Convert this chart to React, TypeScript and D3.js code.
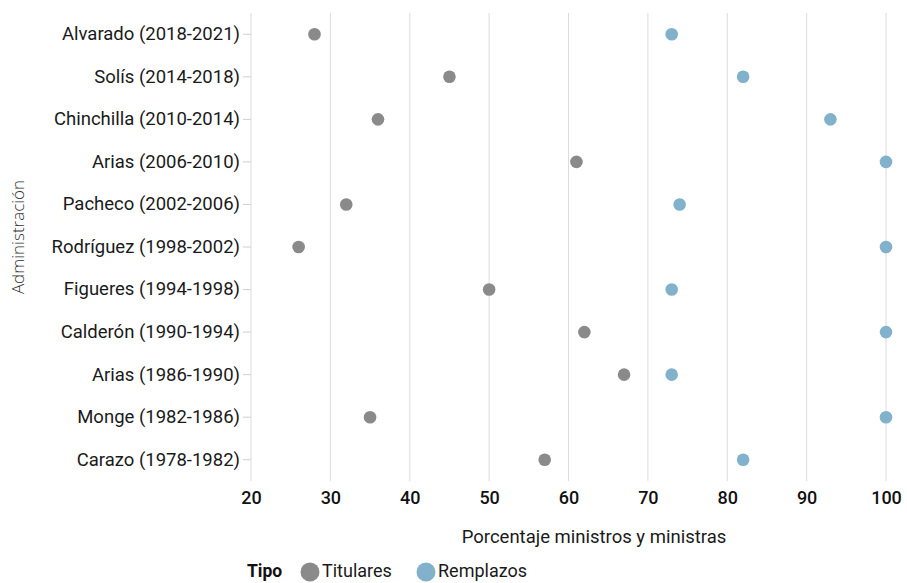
import React, { useEffect, useRef } from "react";
import * as d3 from "d3";

const administraciones = [
  "Alvarado (2018-2021)",
  "Solís (2014-2018)",
  "Chinchilla (2010-2014)",
  "Arias (2006-2010)",
  "Pacheco (2002-2006)",
  "Rodríguez (1998-2002)",
  "Figueres (1994-1998)",
  "Calderón (1990-1994)",
  "Arias (1986-1990)",
  "Monge (1982-1986)",
  "Carazo (1978-1982)",
];
const titulares = [28, 45, 36, 61, 32, 26, 50, 62, 67, 35, 57];
const remplazos = [73, 82, 93, 100, 74, 100, 73, 100, 73, 100, 82];
const tipos = ["Titulares", "Remplazos"];
const colores = ["#8a8a8a", "#82b1cb"];
const xTicks = [20, 30, 40, 50, 60, 70, 80, 90, 100];

const FONT = "'Roboto', sans-serif";

const App = () => {
  const svgRef = useRef<SVGSVGElement>(null);

  useEffect(() => {
    const width = 907;
    const height = 583;
    const margin = { top: 13, left: 251, right: 21, bottom: 102 };

    const svg = d3.select(svgRef.current);
    svg.selectAll("*").remove();

    const x = d3
      .scaleLinear()
      .domain([20, 100])
      .range([margin.left, width - margin.right]);
    const y = d3
      .scaleBand()
      .domain(administraciones)
      .range([margin.top, height - margin.bottom]);
    const color = d3.scaleOrdinal<string>().domain(tipos).range(colores);

    // grid
    svg
      .append("g")
      .selectAll("line")
      .data(xTicks)
      .enter()
      .append("line")
      .attr("x1", (d) => x(d))
      .attr("x2", (d) => x(d))
      .attr("y1", margin.top)
      .attr("y2", height - margin.bottom)
      .attr("stroke", "#dcdcdc")
      .attr("stroke-width", 1);

    // y axis
    const yAxis = svg
      .append("g")
      .attr("transform", `translate(${margin.left},0)`)
      .call(d3.axisLeft(y).tickSize(8).tickPadding(3));
    yAxis.select(".domain").remove();
    yAxis.selectAll(".tick line").attr("stroke", "#d0d0d0");
    yAxis
      .selectAll(".tick text")
      .attr("fill", "#1a1a1a")
      .style("font-family", FONT)
      .style("font-size", "18.5px");

    // x axis
    const xAxis = svg
      .append("g")
      .attr("transform", `translate(0,${height - margin.bottom})`)
      .call(d3.axisBottom(x).tickValues(xTicks).tickSize(0).tickPadding(10));
    xAxis.select(".domain").remove();
    xAxis
      .selectAll(".tick text")
      .attr("fill", "#111")
      .style("font-family", FONT)
      .style("font-size", "18px")
      .style("font-weight", 500);

    svg
      .append("text")
      .attr("x", 594)
      .attr("y", 543)
      .attr("text-anchor", "middle")
      .attr("fill", "#1a1a1a")
      .style("font-family", FONT)
      .style("font-size", "18.5px")
      .text("Porcentaje ministros y ministras");

    svg
      .append("text")
      .attr("transform", `translate(24,237) rotate(-90)`)
      .attr("text-anchor", "middle")
      .attr("fill", "#333")
      .style("font-family", "'Open Sans', sans-serif")
      .style("font-weight", 300)
      .style("font-size", "17px")
      .text("Administración");

    // points
    const series = [titulares, remplazos];
    series.forEach((vals, si) => {
      svg
        .append("g")
        .selectAll("circle")
        .data(vals)
        .enter()
        .append("circle")
        .attr("cx", (d) => x(d))
        .attr("cy", (_, i) => (y(administraciones[i]) as number) + y.bandwidth() / 2)
        .attr("r", 6.3)
        .attr("fill", color(tipos[si]));
    });

    // legend
    const lg = svg.append("g").attr("transform", "translate(247,577)");
    lg.append("text")
      .attr("x", 0)
      .attr("y", 0)
      .attr("fill", "#111")
      .style("font-family", FONT)
      .style("font-size", "17.5px")
      .style("font-weight", "bold")
      .text("Tipo");
    const legendX = [63, 179];
    tipos.forEach((t, i) => {
      lg.append("circle")
        .attr("cx", legendX[i])
        .attr("cy", -5)
        .attr("r", 9.5)
        .attr("fill", color(t));
      lg.append("text")
        .attr("x", legendX[i] + 12)
        .attr("y", 0)
        .attr("fill", "#1a1a1a")
        .style("font-family", FONT)
        .style("font-size", "18px")
        .text(t);
    });
  }, []);

  return (
    <svg
      ref={svgRef}
      width={907}
      height={583}
      style={{ position: "absolute", left: 0, top: 0, background: "#fff" }}
    ></svg>
  );
};

export default App;
